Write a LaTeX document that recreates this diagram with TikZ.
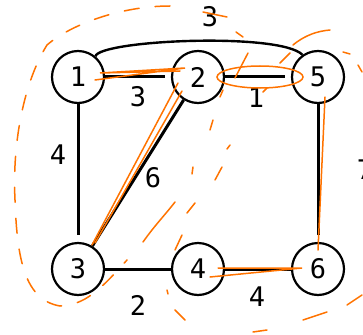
\documentclass[tikz,border=0pt]{standalone}
\usepackage{fontspec}
\newfontfamily\monofont{DejaVu Sans Mono}
\begin{document}
\begin{tikzpicture}[x=1pt,y=-1pt,
  vert/.style={circle,draw,line width=2.2pt,minimum size=52pt,inner sep=0pt,font=\monofont\fontsize{27}{27}\selectfont},
  edge/.style={line width=3pt},
  lab/.style={font=\monofont\fontsize{27}{27}\selectfont,inner sep=0pt},
  hand/.style={draw=orange!90!red,line width=1.5pt,line cap=round},
  handd/.style={hand,dash pattern=on 15pt off 16pt}]
\useasboundingbox (0,0) rectangle (363,334);
\node[vert] (n1) at (78,77) {1};
\node[vert] (n2) at (198,77) {2};
\node[vert] (n5) at (318,77) {5};
\node[vert] (n3) at (78,269) {3};
\node[vert] (n4) at (198,269) {4};
\node[vert] (n6) at (318,269) {6};
\draw[edge,shorten >=6pt] (n1) -- (n2);
\draw[edge,shorten >=6pt] (n2) -- (n5);
\draw[edge,shorten >=7pt] (n1) -- (n3);
\draw[edge,shorten >=7pt] (n5) -- (n6);
\draw[edge] (n2) -- (n3);
\draw[edge] (n3) -- (n4);
\draw[edge] (n4) -- (n6);
\draw[line width=2.4pt] (n1.50) .. controls (100,40) and (280,32) .. (n5.125);
\node[lab] (l15) at (210,17) {3};
\node[lab] (l12) at (138,97) {3};
\node[lab] (l25) at (256,98) {1};
\node[lab] (l13) at (58,155) {4};
\node[lab] (l23) at (153,178) {6};
\node[lab] (l56) at (365,170) {7};
\node[lab] (l34) at (138,305) {2};
\node[lab] (l46) at (257,297) {4};
% orange annotations
\draw[handd] (170,6) .. controls (120,6) and (70,25) .. (47,45)
  .. controls (25,80) and (12,140) .. (15,200)
  .. controls (17,260) and (25,300) .. (60,306)
  .. controls (85,305) and (100,290) .. (127,260);
\draw[hand] (143,242) .. controls (155,225) and (165,215) .. (175,202);
\draw[hand] (175,250) -- (182,235);
\draw[hand] (187,213) -- (195,203);
\draw[hand] (192,174) -- (193,167);
\draw[hand] (215,180) -- (222,167);
\draw[hand] (203,12) -- (227,17);
\draw[hand] (236,32) -- (243,37);
\draw[hand] (235,78) -- (248,53);
\draw[hand] (280,63) -- (290,53);
\draw[hand] (293,45) .. controls (305,35) and (318,31) .. (330,30);
\draw[hand] (343,52) -- (350,54);
\draw[hand] (358,65) -- (362,72);
\draw[hand] (263,92) -- (267,88);
\draw[hand] (220,97) -- (223,90);
\draw[hand] (210,130) -- (213,120);
\draw[hand] (227,149) -- (230,145);
\draw[hand] (167,290) -- (168,294);
\draw[hand] (175,310) -- (185,320);
\draw[hand] (253,332) -- (267,330);
\draw[hand] (303,320) -- (327,312);
\draw[hand] (347,305) -- (362,295);
\draw[hand] (95,80) -- (185,68) -- (100,73) -- (180,71);
\draw[hand] (260,77) ellipse [x radius=43pt,y radius=11pt];
\draw[hand] (178,83) -- (92,245);
\draw[hand] (182,91) -- (95,243);
\draw[hand] (325,97) -- (318,250);
\draw[hand] (218,268) -- (302,268) -- (210,277);
\end{tikzpicture}
\end{document}
